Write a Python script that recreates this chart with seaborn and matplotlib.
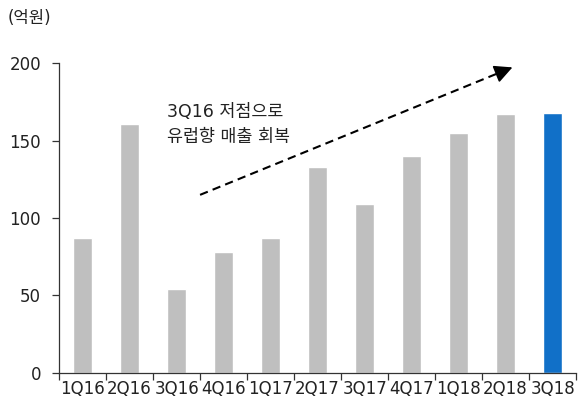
import matplotlib.pyplot as plt
import pandas as pd
import seaborn as sns

quarters = ['1Q16', '2Q16', '3Q16', '4Q16', '1Q17', '2Q17',
            '3Q17', '4Q17', '1Q18', '2Q18', '3Q18']
sales = [87, 161, 54, 78, 87, 133, 109, 140, 155, 167, 168]
bar_colors = ['#BFBFBF'] * 10 + ['#1170C8']

df = pd.DataFrame({'quarter': quarters, 'sales': sales})

sns.set_style('white')
plt.rcParams['font.family'] = ['DejaVu Sans', 'Noto Sans CJK KR']

fig = plt.figure(figsize=(5.79, 4.08), dpi=100)
ax = fig.add_axes([0.102, 0.086, 0.893, 0.759])

sns.barplot(data=df, x='quarter', y='sales', hue='quarter',
            palette=bar_colors, legend=False, width=0.4, ax=ax,
            saturation=1)

ax.set_xlim(-0.5, len(quarters) - 0.5)
ax.set_ylim(0, 200)
ax.set_yticks([0, 50, 100, 150, 200])
ax.set_xlabel('')
ax.set_ylabel('')

# spines and ticks
for s in ['top', 'right']:
    ax.spines[s].set_visible(False)
for s in ['left', 'bottom']:
    ax.spines[s].set_color('#333333')
    ax.spines[s].set_linewidth(0.9)
ax.tick_params(axis='y', length=5, width=0.9, color='#333333',
               labelsize=12, labelcolor='#222222', left=True, pad=8)
ax.tick_params(axis='x', which='major', length=0, labelsize=12,
               labelcolor='#222222', pad=5)
ax.set_xticks([i - 0.5 for i in range(len(quarters) + 1)], minor=True)
ax.tick_params(axis='x', which='minor', length=5, width=0.9,
               color='#333333', bottom=True)

# trend arrow
x0, y0, x1, y1 = 2.5, 115, 9.2, 198
ax.plot([x0, x1 - 0.3], [y0, y1 - 3.7], ls='--', color='black', lw=1.5,
        dashes=(4, 2.5))
ax.annotate('', xy=(x1, y1), xytext=(x1 - 0.35, y1 - 4.3),
            arrowprops=dict(arrowstyle='-|>,head_length=1.1,head_width=0.55',
                            color='black', lw=1.2))

ax.text(1.8, 174, '3Q16 저점으로\n유럽향 매출 회복', fontsize=12.5,
        va='top', ha='left', color='#222222', linespacing=1.45)

fig.text(0.014, 0.955, '(억원)', fontsize=12, va='center', ha='left',
         color='#222222')

fig.savefig('out.png', dpi=100)
